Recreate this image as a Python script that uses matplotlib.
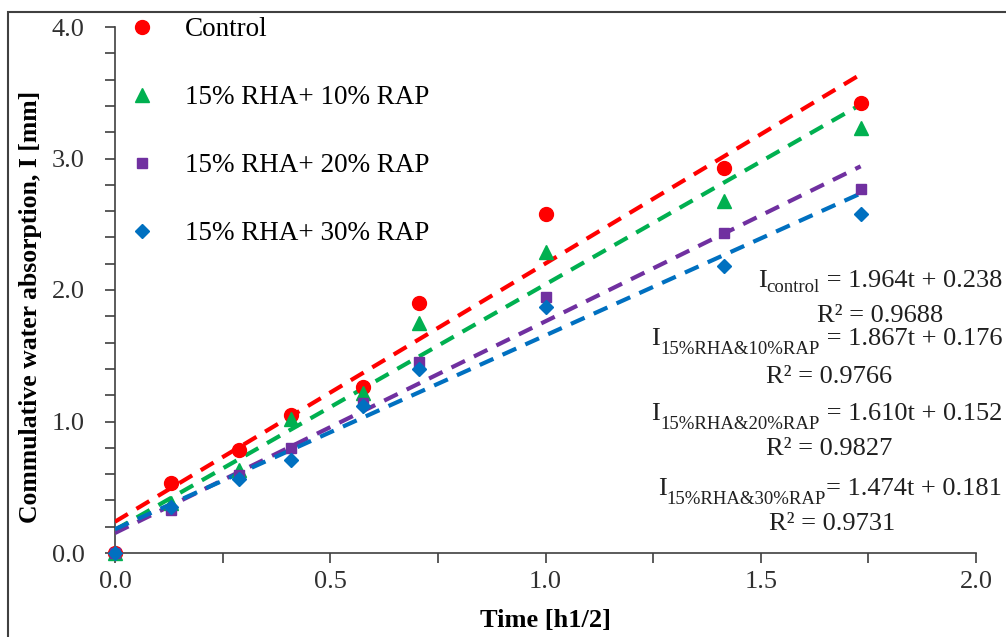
import matplotlib
matplotlib.use("Agg")
import matplotlib.pyplot as plt
from matplotlib.patches import Rectangle
from matplotlib.ticker import MultipleLocator, FormatStrFormatter
import numpy as np

plt.rcParams['font.family'] = ['Liberation Serif', 'DejaVu Serif']

t = [0.0, 0.129, 0.289, 0.408, 0.577, 0.707, 1.0, 1.414, 1.732]
series_names = ["Control", "15% RHA+ 10% RAP", "15% RHA+ 20% RAP", "15% RHA+ 30% RAP"]
control = [0.0, 0.53, 0.78, 1.05, 1.26, 1.90, 2.58, 2.93, 3.42]
rha10 = [0.0, 0.38, 0.63, 1.02, 1.22, 1.75, 2.29, 2.68, 3.23]
rha20 = [0.0, 0.33, 0.59, 0.80, 1.14, 1.45, 1.95, 2.43, 2.77]
rha30 = [0.0, 0.35, 0.56, 0.71, 1.12, 1.40, 1.87, 2.18, 2.58]
slopes = [1.964, 1.867, 1.610, 1.474]
intercepts = [0.238, 0.176, 0.152, 0.181]
eq_subs = ["control", "15%RHA&10%RAP", "15%RHA&20%RAP", "15%RHA&30%RAP"]
eq_tails = [" = 1.964t + 0.238", " = 1.867t + 0.176", " = 1.610t + 0.152", "= 1.474t + 0.181"]
r2_labels = ["R² = 0.9688", "R² = 0.9766", "R² = 0.9827", "R² = 0.9731"]

colors = ['#FF0000', '#00B050', '#7030A0', '#0070C0']
markers = ['o', '^', 's', 'D']
msizes = [10, 9.5, 7.5, 7]

W, H = 1006, 637
fig = plt.figure(figsize=(W / 100, H / 100), dpi=100)
ax = fig.add_axes([115 / W, 1 - 553 / H, 861 / W, 526 / H])

data = [control, rha10, rha20, rha30]
handles = []
for i, ys in enumerate(data):
    h, = ax.plot(t, ys, linestyle='none', marker=markers[i], color=colors[i],
                 markersize=msizes[i], clip_on=False, zorder=4, label=series_names[i])
    handles.append(h)
    xl = np.array([0.0, t[-1]])
    ax.plot(xl, slopes[i] * xl + intercepts[i], linestyle=(0, (3.6, 2.4)),
            color=colors[i], lw=3, zorder=3)

ax.set_xlim(0, 2.0)
ax.set_ylim(0, 4.0)
ax.xaxis.set_major_locator(MultipleLocator(0.5))
ax.xaxis.set_minor_locator(MultipleLocator(0.25))
ax.yaxis.set_major_locator(MultipleLocator(1.0))
ax.yaxis.set_minor_locator(MultipleLocator(0.2))
ax.xaxis.set_major_formatter(FormatStrFormatter('%.1f'))
ax.yaxis.set_major_formatter(FormatStrFormatter('%.1f'))
for s in ['top', 'right']:
    ax.spines[s].set_visible(False)
for s in ['left', 'bottom']:
    ax.spines[s].set_color('#404040')
    ax.spines[s].set_linewidth(1.2)
ax.tick_params(which='both', direction='out', length=7, width=1.2, color='#404040',
               labelsize=19, labelcolor='#303030')
ax.tick_params(axis='x', pad=6)
ax.tick_params(axis='y', pad=15)

fig.text(545 / W, 1 - 620 / H, "Time [h1/2]", fontsize=19, fontweight='bold',
         ha='center', va='center')
fig.text(31 / W, 1 - 307 / H, "Commulative water absorption, I [mm]", fontsize=18.5,
         fontweight='bold', rotation=90, ha='center', va='center')

leg = fig.legend(handles=handles, loc='upper left', bbox_to_anchor=(0.1166, 0.9901),
                 frameon=False, fontsize=19.5, labelspacing=1.59, handletextpad=1.09,
                 handlelength=1.0, borderaxespad=0)

fig.canvas.draw()
renderer = fig.canvas.get_renderer()
eq_y = [287, 345, 420, 495]
sub_drop = [5, 9, 9, 9]
r2_y = [322, 383, 455, 530]
r2_x = [880, 829, 829, 832]
for i in range(4):
    yb = 1 - eq_y[i] / H
    tail = fig.text(1002 / W, yb, eq_tails[i], ha='right', va='baseline',
                    fontsize=19, color='#202020')
    bb = tail.get_window_extent(renderer)
    sub = fig.text(bb.x0 / W, yb - sub_drop[i] / H, eq_subs[i], ha='right', va='baseline',
                   fontsize=13.5, color='#202020')
    bb2 = sub.get_window_extent(renderer)
    fig.text(bb2.x0 / W, yb, "I", ha='right', va='baseline', fontsize=19, color='#202020')
    fig.text(r2_x[i] / W, 1 - r2_y[i] / H, r2_labels[i], ha='center', va='baseline',
             fontsize=19, color='#202020')

fig.patches.append(Rectangle((8 / W, -0.2), 1.2, 1.2 - 12 / H,
                             transform=fig.transFigure, fill=False,
                             edgecolor='#404040', lw=1.5))

fig.savefig("out.png", dpi=100)
